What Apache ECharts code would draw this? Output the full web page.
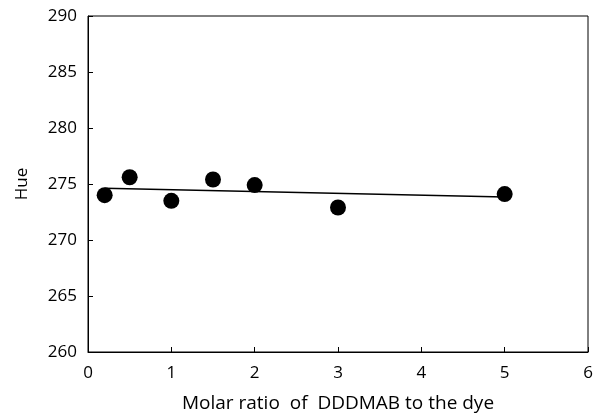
<!DOCTYPE html>
<html><head><meta charset="utf-8">
<script src="https://cdn.jsdelivr.net/npm/echarts@6/dist/echarts.min.js"></script>
<style>html,body{margin:0;padding:0;background:#fff}#c{width:606px;height:418px}</style>
</head><body><div id="c"></div>
<script>
const ratioX = [0.2, 0.5, 1, 1.5, 2, 3, 5];
const hueY = [274.0, 275.6, 273.5, 275.4, 274.9, 272.9, 274.1];
const trendX = [0.2, 5];
const trendY = [274.63, 273.83];
const xTitle = 'Molar ratio  of  DDDMAB to the dye';
const yTitle = 'Hue';
const font = '"Open Sans", "DejaVu Sans", sans-serif';
const chart = echarts.init(document.getElementById('c'));
chart.setOption({
  animation: false,
  grid: {left: 88, right: 18, top: 16, bottom: 65, show: true, borderColor: '#000', borderWidth: 1},
  xAxis: {
    type: 'value', min: 0, max: 6, interval: 1,
    name: xTitle, nameLocation: 'middle', nameGap: 42,
    nameTextStyle: {fontFamily: font, fontSize: 19, color: '#000'},
    axisLine: {show: true, lineStyle: {color: '#000', width: 1}},
    axisTick: {show: true, inside: true, length: 5, lineStyle: {color: '#000'}},
    axisLabel: {fontFamily: font, fontSize: 17, color: '#000', margin: 13},
    splitLine: {show: false}
  },
  yAxis: {
    type: 'value', min: 260, max: 290, interval: 5,
    name: yTitle, nameLocation: 'middle', nameGap: 57, nameRotate: 90,
    nameTextStyle: {fontFamily: font, fontSize: 17, color: '#000'},
    axisLine: {show: true, lineStyle: {color: '#000', width: 1}},
    axisTick: {show: true, inside: true, length: 5, lineStyle: {color: '#000'}},
    axisLabel: {fontFamily: font, fontSize: 17, color: '#000', margin: 11},
    splitLine: {show: false}
  },
  series: [
    {type: 'line', data: trendX.map((x, i) => [x, trendY[i]]), showSymbol: false, symbol: 'none',
     lineStyle: {color: '#000', width: 1.5}, z: 1},
    {type: 'scatter', data: ratioX.map((x, i) => [x, hueY[i]]), symbol: 'circle', symbolSize: 16,
     itemStyle: {color: '#000', opacity: 1}, z: 2}
  ]
});
</script></body></html>
